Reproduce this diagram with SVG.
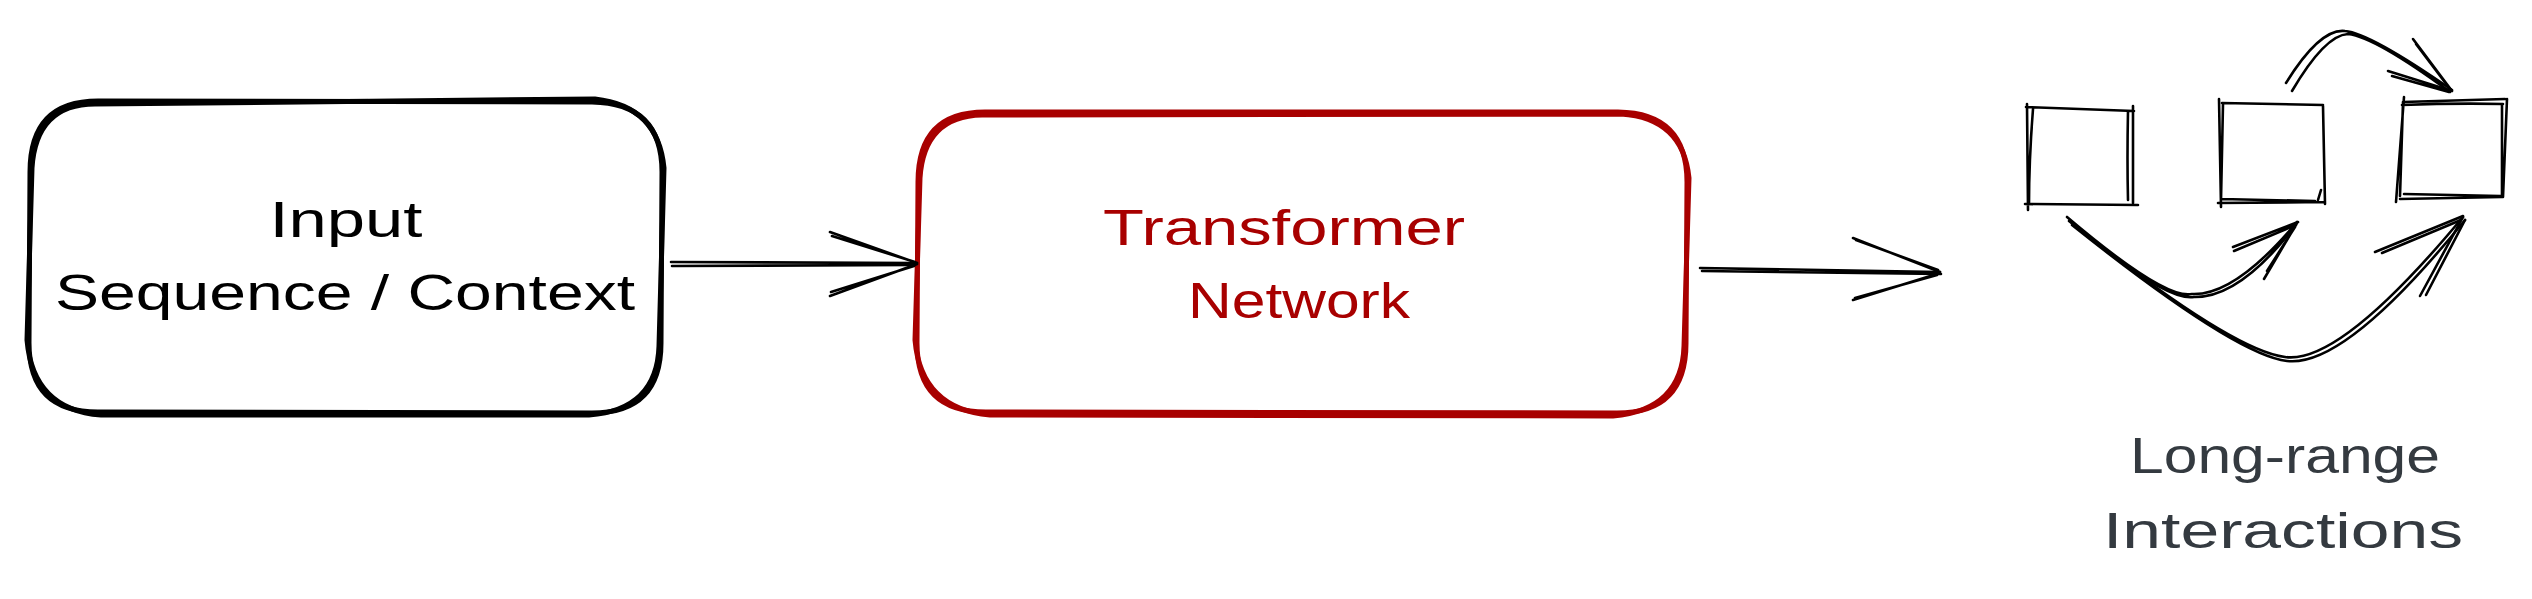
<svg xmlns="http://www.w3.org/2000/svg" width="2532" height="599" viewBox="0 0 2532 599">
<style>
.bk{fill:none;stroke:#000;stroke-width:5;stroke-linecap:round;stroke-linejoin:round}
.rd{fill:none;stroke:#a80000;stroke-width:5;stroke-linecap:round;stroke-linejoin:round}
.ln{fill:none;stroke:#000;stroke-width:2.6;stroke-linecap:round;stroke-linejoin:round}
.t{font-family:"Liberation Sans",Arial,sans-serif;font-size:50px;text-anchor:middle}
</style>
<rect width="2532" height="599" fill="#fff"/>
<g id="input">
<path class="bk" d="M98 101 L592 102 Q662 103 662 172 L661 343 Q661 413 592 413 L98 412 Q29 412 29 343 L30 172 Q30 101 98 101 Z"/>
<path class="bk" stroke-width="3.5" d="M95 104 L595 99 Q658 106 664 168 L659 346 Q657 410 589 415 L101 415 Q33 410 27 340 L32 168 Q36 104 95 104 Z"/>
<text class="t" x="346" y="237" textLength="153" lengthAdjust="spacingAndGlyphs">Input</text>
<text class="t" x="345" y="310" textLength="580" lengthAdjust="spacingAndGlyphs">Sequence / Context</text>
</g>
<g id="transformer">
<path class="rd" d="M985 112 L1618 112 Q1687 113 1687 182 L1686 343 Q1686 413 1617 413 L986 412 Q917 412 917 343 L918 182 Q918 112 985 112 Z"/>
<path class="rd" stroke-width="3.5" d="M982 115 L1621 114 Q1683 118 1689 178 L1684 346 Q1682 410 1613 416 L990 415 Q921 409 915 340 L920 178 Q924 116 982 115 Z"/>
<text class="t" x="1284" y="245" fill="#a80000" textLength="362" lengthAdjust="spacingAndGlyphs">Transformer</text>
<text class="t" x="1299" y="318" fill="#a80000" textLength="222" lengthAdjust="spacingAndGlyphs">Network</text>
</g>
<g id="interactions">
<path class="ln" stroke-width="2.8" d="M2026 107 L2134 111 M2027 104 L2028 210 M2033 109 Q2029 160 2029 204 M2133 106 L2133 203 M2128 111 Q2127 160 2128 200 M2025 204 L2138 205"/>
<path class="ln" stroke-width="2.8" d="M2222 103 L2323 105 M2219 99 L2221 207 M2223 104 L2221 200 M2323 106 L2325 204 M2321 190 L2318 200 M2218 203 L2324 202 M2221 199 L2315 201"/>
<path class="ln" stroke-width="2.8" d="M2403 102 L2505 99 M2402 105 Q2455 103 2503 104 M2404 97 L2396 202 M2403 102 L2400 196 M2507 99 L2503 197 M2502 104 L2502 195 M2400 199 L2502 197 M2404 194 L2501 196"/>
<text class="t" x="2285" y="473" fill="#343a40" textLength="310" lengthAdjust="spacingAndGlyphs">Long-range</text>
<text class="t" x="2283" y="548" fill="#343a40" textLength="360" lengthAdjust="spacingAndGlyphs">Interactions</text>
</g>
<g id="connectors">
<path class="ln" d="M671 262 L917 263 M672 266 L915 265"/>
<path class="ln" d="M830 232 L917 263 M832 236 L915 262 M830 296 L917 264 M831 292 L914 266"/>
<path class="ln" d="M1700 268 L1940 272 M1702 271 L1941 274"/>
<path class="ln" d="M1853 238 L1940 272 M1856 240 L1938 270 M1853 300 L1940 273 M1855 298 L1937 275"/>
<path class="ln" d="M2286 83 Q2320 28 2345 31 Q2370 33 2452 90 M2292 91 Q2325 35 2348 34 Q2375 37 2450 92"/>
<path class="ln" d="M2413 39 L2452 91 M2416 44 L2450 89 M2388 71 L2452 91 M2392 76 L2449 92"/>
<path class="ln" d="M2067 217 Q2165 300 2192 294 Q2235 296 2297 222 M2071 222 Q2165 302 2194 297 Q2240 298 2295 226"/>
<path class="ln" d="M2233 247 L2298 222 M2234 251 L2296 225 M2264 279 L2297 223 M2267 271 L2295 227"/>
<path class="ln" d="M2069 221 Q2230 350 2285 357 Q2340 365 2463 217 M2072 225 Q2235 355 2287 361 Q2345 368 2465 220"/>
<path class="ln" d="M2375 252 L2463 216 M2382 253 L2461 220 M2420 296 L2463 217 M2426 295 L2465 220"/>
</g>
</svg>
